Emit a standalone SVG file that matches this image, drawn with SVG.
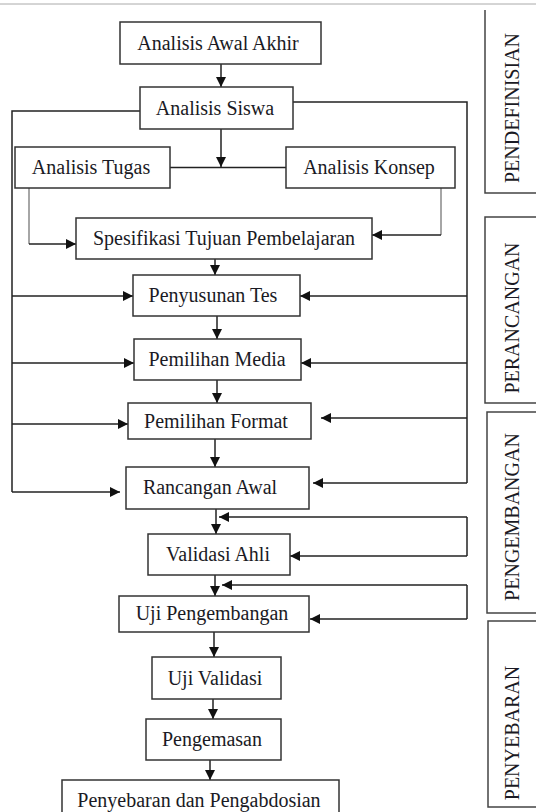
<svg xmlns="http://www.w3.org/2000/svg" width="536" height="812" viewBox="0 0 536 812">
<style>
.box{fill:#fff;stroke:#333;stroke-width:1.5}
.t{font-family:"Liberation Serif","Times New Roman",serif;font-size:20px;fill:#1a1a24;text-anchor:middle}
.ph{font-family:"Liberation Serif","Times New Roman",serif;font-size:20px;fill:#1a1a24;text-anchor:middle}
.c{fill:none;stroke:#222;stroke-width:1.5}
.g{fill:none;stroke:#888;stroke-width:1.5}
.a{fill:none;stroke:#222;stroke-width:1.5;marker-end:url(#ah)}
.pb{fill:none;stroke:#444;stroke-width:1.5}
</style>
<defs>
<marker id="ah" markerUnits="userSpaceOnUse" markerWidth="10" markerHeight="10" viewBox="0 0 10 10" refX="10" refY="5" orient="auto">
<path d="M0,0 L10,5 L0,10 Z" fill="#111"/>
</marker>
</defs>
<rect width="536" height="812" fill="#fff"/>
<line x1="0" y1="4" x2="536" y2="4" stroke="#aaa" stroke-width="1"/>

<g id="connectors">
<path class="a" d="M221,64 V87"/>
<path class="a" d="M221,129 V167"/>
<path class="c" d="M170,167.5 H286"/>
<path class="g" d="M29,188 V244"/>
<path class="a" d="M29,244 H76"/>
<path class="g" d="M441,188 V235"/>
<path class="a" d="M441,235 H372"/>
<path class="a" d="M215,259 V275"/>
<path class="a" d="M217,316 V339"/>
<path class="a" d="M217,380 V403"/>
<path class="a" d="M215,439 V467"/>
<path class="a" d="M216,509 V534"/>
<path class="a" d="M215,575 V596"/>
<path class="a" d="M214,632 V657"/>
<path class="a" d="M213,699 V719"/>
<path class="a" d="M210,760 V780"/>
<path class="c" d="M140,111 H12 V492"/>
<path class="a" d="M12,492 H120"/>
<path class="a" d="M12,296 H133"/>
<path class="a" d="M12,363 H134"/>
<path class="a" d="M12,424 H128"/>
<path class="c" d="M293,102 H467 V483"/>
<path class="a" d="M467,483 H313"/>
<path class="a" d="M467,296 H300"/>
<path class="a" d="M467,363 H301"/>
<path class="a" d="M467,418 H321"/>
<path class="c" d="M467,517 V556"/>
<path class="a" d="M467,517 H219"/>
<path class="a" d="M467,556 H290"/>
<path class="c" d="M467,585 V619"/>
<path class="a" d="M467,585 H222"/>
<path class="a" d="M467,619 H310"/>
</g>

<g id="analisis-awal-akhir"><rect class="box" x="120" y="22" width="201" height="42"/><text class="t" x="218" y="50">Analisis Awal Akhir</text></g>
<g id="analisis-siswa"><rect class="box" x="140" y="87" width="153" height="42"/><text class="t" x="215" y="115">Analisis Siswa</text></g>
<g id="analisis-tugas"><rect class="box" x="15" y="147" width="155" height="41"/><text class="t" x="91" y="174">Analisis Tugas</text></g>
<g id="analisis-konsep"><rect class="box" x="286" y="147" width="169" height="41"/><text class="t" x="369" y="174">Analisis Konsep</text></g>
<g id="spesifikasi"><rect class="box" x="76" y="218" width="296" height="41"/><text class="t" x="224" y="245">Spesifikasi Tujuan Pembelajaran</text></g>
<g id="penyusunan-tes"><rect class="box" x="133" y="275" width="167" height="41"/><text class="t" x="213" y="302">Penyusunan Tes</text></g>
<g id="pemilihan-media"><rect class="box" x="134" y="339" width="167" height="41"/><text class="t" x="217" y="366">Pemilihan Media</text></g>
<g id="pemilihan-format"><rect class="box" x="128" y="403" width="183" height="36"/><text class="t" x="216" y="428">Pemilihan Format</text></g>
<g id="rancangan-awal"><rect class="box" x="126" y="467" width="183" height="42"/><text class="t" x="210" y="494">Rancangan Awal</text></g>
<g id="validasi-ahli"><rect class="box" x="148" y="534" width="142" height="41"/><text class="t" x="218" y="561">Validasi Ahli</text></g>
<g id="uji-pengembangan"><rect class="box" x="119" y="596" width="190" height="36"/><text class="t" x="212" y="620">Uji Pengembangan</text></g>
<g id="uji-validasi"><rect class="box" x="152" y="657" width="129" height="42"/><text class="t" x="215" y="685">Uji Validasi</text></g>
<g id="pengemasan"><rect class="box" x="146" y="719" width="135" height="41"/><text class="t" x="212" y="746">Pengemasan</text></g>
<g id="penyebaran"><rect class="box" x="62" y="780" width="277" height="44"/><text class="t" x="199" y="807">Penyebaran dan Pengabdosian</text></g>

<g id="phase-pendefinisian"><path class="pb" d="M545,193 H485 V10"/><text class="ph" transform="translate(519,108) rotate(-90)">PENDEFINISIAN</text></g>
<g id="phase-perancangan"><path class="pb" d="M545,217 H485 V403 H545"/><text class="ph" transform="translate(519,318) rotate(-90)">PERANCANGAN</text></g>
<g id="phase-pengembangan"><path class="pb" d="M545,412 H487 V613 H545"/><text class="ph" transform="translate(519,517) rotate(-90)">PENGEMBANGAN</text></g>
<g id="phase-penyebaran"><path class="pb" d="M545,621 H488 V807 H545"/><text class="ph" transform="translate(519,733) rotate(-90)">PENYEBARAN</text></g>
</svg>
